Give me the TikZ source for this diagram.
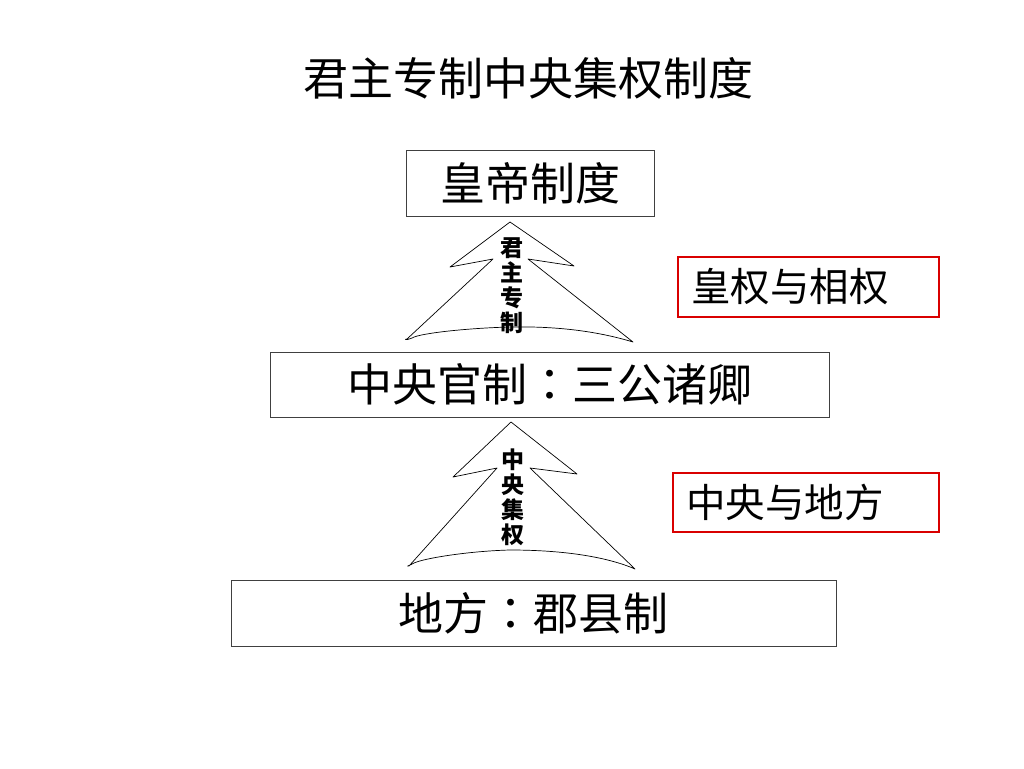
\documentclass[tikz,border=0pt]{standalone}
\usepackage{fontspec}
\newfontfamily\cjk{Noto Sans CJK SC}
\newfontfamily\cjktc{Noto Sans CJK TC}
\newcommand{\cnco}{{\cjktc ：}}
\begin{document}
\begin{tikzpicture}[x=1pt,y=-1pt,
  plainbox/.style={draw=black!75,line width=0.9pt,fill=white,inner sep=0pt,font=\cjk\fontsize{45}{45}\selectfont},
  redbox/.style={draw=red!85!black,line width=1.1pt,inner xsep=13pt,inner ysep=0pt,align=left,font=\cjk\fontsize{39.5}{39.5}\selectfont},
  arrowshape/.style={draw=black,line width=0.7pt,fill=white,line join=round},
  vlabel/.style={align=center,inner sep=0pt,font=\cjk\bfseries\fontsize{23}{25}\selectfont}]
\useasboundingbox (0,0) rectangle (1024,768);
\node[inner sep=0pt,font=\cjk\fontsize{45}{45}\selectfont] (title) at (528,78) {君主专制中央集权制度};
% boxes
\node[plainbox,minimum width=248pt,minimum height=66pt] (emp) at (530,183) {皇帝制度};
\node[plainbox,minimum width=559pt,minimum height=65pt] (cen) at (549.5,384.5) {中央官制\cnco 三公诸卿};
\node[plainbox,minimum width=605pt,minimum height=66pt] (loc) at (533.5,613) {地方\cnco 郡县制};
\node[redbox,text width=235pt,minimum height=60pt] (r1) at (808.5,287) {皇权与相权};
\node[redbox,text width=240pt,minimum height=59pt] (r2) at (806,502.5) {中央与地方};
% top arrow
\coordinate (a1) at (510,222);
\coordinate (a1bl) at (450,267);
\coordinate (a1nl) at (493,259);
\coordinate (a1nr) at (528,259);
\coordinate (a1br) at (574,266);
\coordinate (a1r) at (633,342);
\coordinate (a1m) at (510,327);
\coordinate (a1l) at (407,339);
\draw[arrowshape] (a1) -- (a1br) -- (a1nr) -- (a1r)
  .. controls (600,332) and (560,326) .. (a1m)
  .. controls (470,328) and (420,333) .. (412,338)
  .. controls (405,341) and (404,339) .. (a1l) -- (a1nl) -- (a1bl) -- cycle;
\node[vlabel] (l1) at (512,286) {君\\主\\专\\制};
% bottom arrow
\coordinate (b1) at (511,422);
\coordinate (b1bl) at (453,477);
\coordinate (b1nl) at (497,468);
\coordinate (b1nr) at (530,468);
\coordinate (b1br) at (577,474);
\coordinate (b1r) at (635,569);
\coordinate (b1m) at (510,550);
\coordinate (b1l) at (409,566);
\draw[arrowshape] (b1) -- (b1br) -- (b1nr) -- (b1r)
  .. controls (605,556) and (560,550) .. (b1m)
  .. controls (470,551) and (425,558) .. (414,563)
  .. controls (407,567) and (406,566) .. (b1l) -- (b1nl) -- (b1bl) -- cycle;
\node[vlabel] (l2) at (513,497) {中\\央\\集\\权};
\end{tikzpicture}
\end{document}
